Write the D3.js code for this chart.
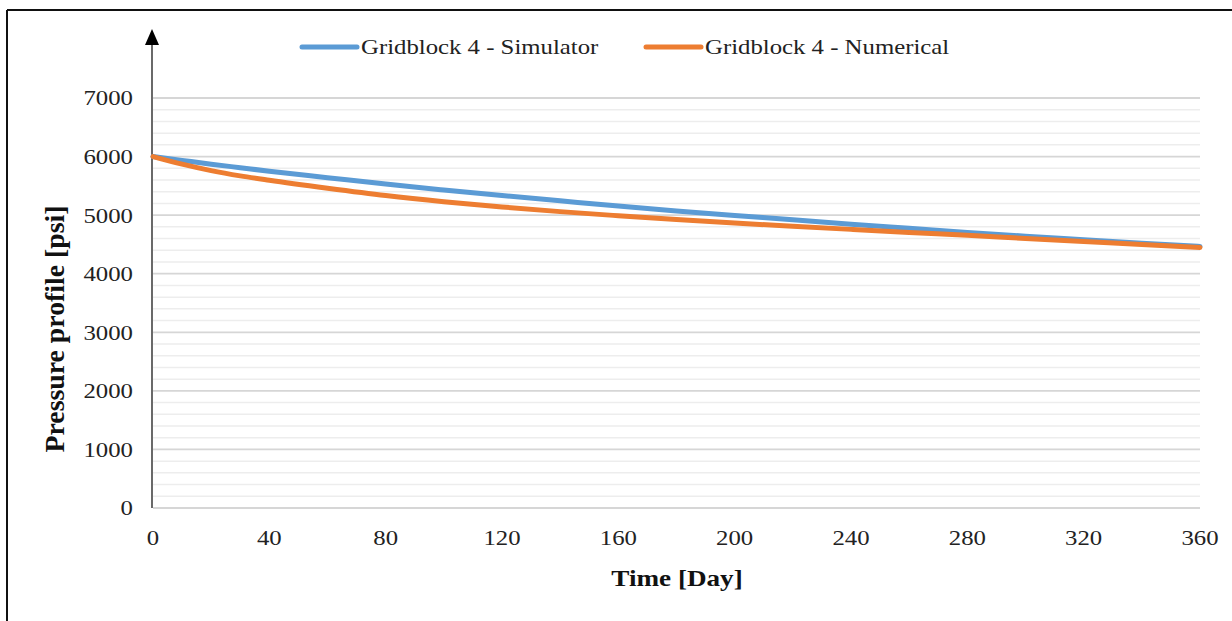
<!DOCTYPE html>
<html><head><meta charset="utf-8">
<script src="https://cdn.jsdelivr.net/npm/d3@7"></script>
<style>body{margin:0;background:#fff}svg{display:block}</style>
</head><body>
<svg id="c" width="1232" height="621"></svg>
<script>
const days = [0,10,20,30,40,60,80,100,120,140,160,180,200,220,240,260,280,300,320,340,360];
const simulator = [6000,5935,5870,5810,5750,5640,5530,5430,5335,5245,5155,5070,4995,4920,4845,4775,4705,4640,4580,4520,4465];
const numerical = [6000,5870,5760,5670,5595,5460,5335,5230,5140,5060,4990,4925,4865,4810,4757,4705,4655,4602,4551,4500,4448];
const xTicks = [0,40,80,120,160,200,240,280,320,360];
const yTicks = [0,1000,2000,3000,4000,5000,6000,7000];
const minorTicks = d3.range(0,7001,200);
const seriesNames = ["Gridblock 4 - Simulator","Gridblock 4 - Numerical"];
const colors = ["#5b9bd5","#ed7d31"];

const svg = d3.select("#c");
const font = "'Liberation Serif','Times New Roman',serif";
const SX = 1.18;
const x = d3.scaleLinear().domain([0,360]).range([153,1200]);
const y = d3.scaleLinear().domain([0,7000]).range([508,98]);

// frame
svg.append("line").attr("x1",7).attr("x2",1232).attr("y1",10).attr("y2",10).attr("stroke","#111").attr("stroke-width",2);
svg.append("line").attr("x1",7).attr("x2",7).attr("y1",10).attr("y2",621).attr("stroke","#111").attr("stroke-width",2);

// gridlines
svg.append("g").selectAll("line").data(minorTicks.filter(v=>v%1000!==0)).join("line")
  .attr("x1",x(0)).attr("x2",x(360)).attr("y1",d=>y(d)).attr("y2",d=>y(d))
  .attr("stroke","#ededed").attr("stroke-width",1.5);
svg.append("g").selectAll("line").data(yTicks).join("line")
  .attr("x1",x(0)).attr("x2",x(360)).attr("y1",d=>y(d)).attr("y2",d=>y(d))
  .attr("stroke","#d6d6d6").attr("stroke-width",1.8);

// y axis with arrow
svg.append("line").attr("x1",152).attr("x2",152).attr("y1",y(0)).attr("y2",40).attr("stroke","#444").attr("stroke-width",1.6);
svg.append("path").attr("d","M145,45 L152,29 L159,45 Z").attr("fill","#000");

// ticks labels
svg.append("g").selectAll("text").data(yTicks).join("text")
  .attr("transform",d=>`translate(133,${y(d)}) scale(${SX},1)`).attr("dy","0.35em").attr("text-anchor","end")
  .attr("font-family",font).attr("font-size",21).attr("fill","#222").text(d=>d);
svg.append("g").selectAll("text").data(xTicks).join("text")
  .attr("transform",d=>`translate(${x(d)},538) scale(${SX},1)`).attr("dy","0.35em").attr("text-anchor","middle")
  .attr("font-family",font).attr("font-size",21).attr("fill","#222").text(d=>d);

// axis titles
svg.append("text").attr("transform",`translate(677,578) scale(${SX},1)`).attr("dy","0.35em").attr("text-anchor","middle")
  .attr("font-family",font).attr("font-size",23).attr("font-weight","bold").attr("fill","#111").text("Time [Day]");
svg.append("text").attr("transform",`translate(54,329) scale(${SX},1) rotate(-90)`).attr("dy","0.35em").attr("text-anchor","middle")
  .attr("font-family",font).attr("font-size",23).attr("font-weight","bold").attr("fill","#111")
  .attr("textLength",247).attr("lengthAdjust","spacingAndGlyphs").text("Pressure profile [psi]");

// lines
const line = d3.line().x((d,i)=>x(days[i])).y(d=>y(d)).curve(d3.curveMonotoneX);
[simulator,numerical].forEach((s,i)=>{
  svg.append("path").datum(s).attr("d",line).attr("fill","none")
    .attr("stroke",colors[i]).attr("stroke-width",5).attr("stroke-linecap","round");
});

// legend
const leg = [{x1:302,x2:357,tx:361},{x1:646,x2:701,tx:705}];
seriesNames.forEach((n,i)=>{
  svg.append("line").attr("x1",leg[i].x1).attr("x2",leg[i].x2).attr("y1",47).attr("y2",47)
    .attr("stroke",colors[i]).attr("stroke-width",5).attr("stroke-linecap","round");
  svg.append("text").attr("transform",`translate(${leg[i].tx},47) scale(${SX},1)`).attr("dy","0.35em")
    .attr("font-family",font).attr("font-size",21).attr("fill","#222").text(n);
});
</script>
</body></html>
